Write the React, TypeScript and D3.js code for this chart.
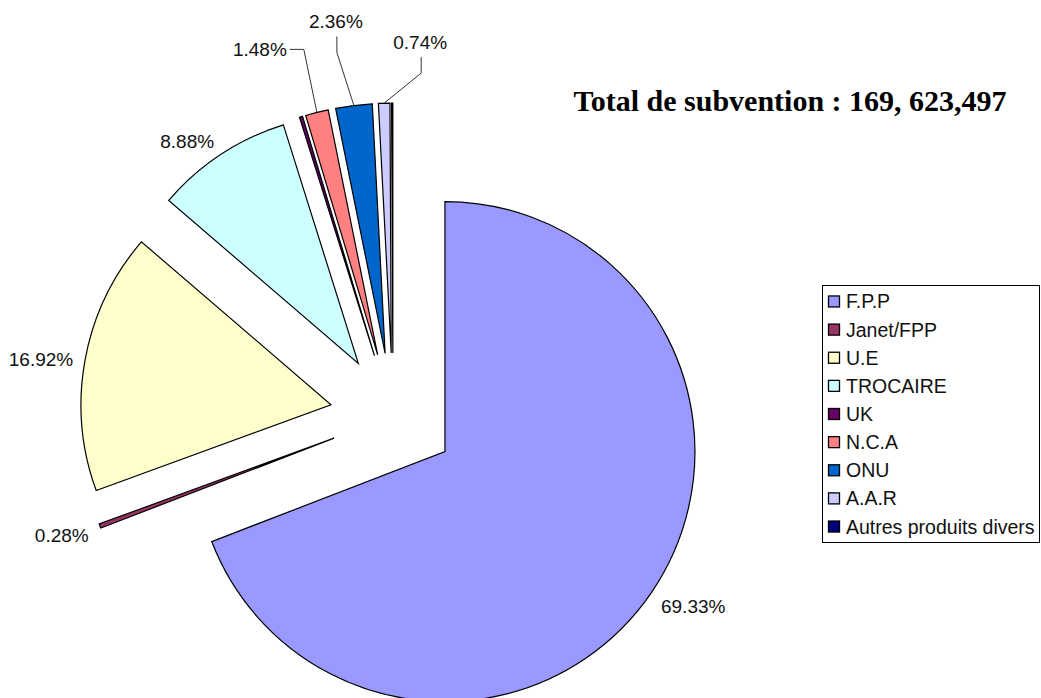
import * as d3 from 'd3';
import React, { useRef, useEffect } from 'react';

const categories = ['F.P.P', 'Janet/FPP', 'U.E', 'TROCAIRE', 'UK', 'N.C.A', 'ONU', 'A.A.R', 'Autres produits divers'];
const shares = [69.33, 0.28, 16.92, 8.88, 0.2, 1.48, 2.36, 0.74, 0.08];
const shareLabels = ['69.33%', '0.28%', '16.92%', '8.88%', null, '1.48%', '2.36%', '0.74%', null];
const colors = ['#9999FF', '#993366', '#FFFFCC', '#CCFFFF', '#660066', '#FF8080', '#0066CC', '#CCCCFF', '#000080'];
const title = 'Total de subvention : 169, 623,497';

// labels moved by hand in the original get a leader line
const leaders = {
  5: { dx: -57, dy: -63, side: 'right' },
  6: { dx: -18, dy: -84, side: 'below' },
  7: { dx: 36, dy: -61, side: 'below' },
};

const W = 1041;
const H = 698;

function Chart() {
  const ref = useRef();

  useEffect(() => {
    draw();
  }, []);

  const draw = () => {
    const svg = d3.select(ref.current);
    svg.selectAll('*').remove();

    const cx = 393;
    const cy = 416;
    const r = 250;
    const explode = 63;

    const pie = d3.pie().sort(null).value(d => d);
    const arcs = pie(shares);
    const arc = d3.arc().innerRadius(0).outerRadius(r);

    const dir = d => {
      const a = (d.startAngle + d.endAngle) / 2;
      return [Math.sin(a), -Math.cos(a)];
    };

    const slices = svg.append('g');
    slices
      .selectAll('path')
      .data(arcs)
      .enter()
      .append('path')
      .attr('transform', d => {
        const [ux, uy] = dir(d);
        return `translate(${cx + ux * explode},${cy + uy * explode})`;
      })
      .attr('d', arc)
      .attr('fill', (d, i) => colors[i])
      .attr('stroke', '#000')
      .attr('stroke-width', 1.2)
      .attr('stroke-linejoin', 'miter');

    const labels = svg
      .append('g')
      .attr('font-family', '"Liberation Sans", Arial, sans-serif')
      .attr('font-size', 19)
      .attr('fill', '#111');

    arcs.forEach((d, i) => {
      const txt = shareLabels[i];
      if (!txt) return;
      const [ux, uy] = dir(d);
      const ox = cx + ux * (explode + r);
      const oy = cy + uy * (explode + r);
      const t = labels
        .append('text')
        .attr('text-anchor', 'middle')
        .attr('dominant-baseline', 'central')
        .text(txt);
      const hw = t.node().getComputedTextLength() / 2;
      const hh = 7;
      const lead = leaders[i];
      let tx, ty;
      if (lead) {
        tx = ox + lead.dx;
        ty = oy + lead.dy;
        let pts;
        if (lead.side === 'right') {
          pts = [[ox, oy], [tx + hw + 17, ty], [tx + hw + 3, ty]];
        } else {
          pts = [[ox, oy], [tx + 1, ty + 31], [tx + 1, ty + 15]];
        }
        labels
          .append('path')
          .attr('d', d3.line()(pts))
          .attr('fill', 'none')
          .attr('stroke', '#333')
          .attr('stroke-width', 1);
      } else {
        const gap = 12;
        tx = ox + ux * gap + Math.sign(ux) * hw;
        ty = oy + uy * gap + uy * hh + 3;
      }
      t.attr('x', tx).attr('y', ty);
    });

    svg
      .append('text')
      .attr('x', 790)
      .attr('y', 111)
      .attr('text-anchor', 'middle')
      .attr('font-family', '"Liberation Serif", "Times New Roman", serif')
      .attr('font-weight', 'bold')
      .attr('font-size', 30)
      .text(title);

    // legend
    const lx = 822;
    const ly = 285;
    const legend = svg.append('g');
    legend
      .append('rect')
      .attr('x', lx + 0.5)
      .attr('y', ly + 0.5)
      .attr('width', W - lx - 2)
      .attr('height', 257)
      .attr('fill', '#fff')
      .attr('stroke', '#000')
      .attr('stroke-width', 1);

    const row = d3.scaleBand().domain(categories).range([ly + 1, ly + 257]).paddingOuter(0.05);
    const items = legend
      .selectAll('g.item')
      .data(categories)
      .enter()
      .append('g')
      .attr('class', 'item')
      .attr('transform', d => `translate(0,${row(d) + row.bandwidth() / 2})`);
    items
      .append('rect')
      .attr('x', lx + 6.5)
      .attr('y', -5.5)
      .attr('width', 11)
      .attr('height', 11)
      .attr('fill', (d, i) => colors[i])
      .attr('stroke', '#000')
      .attr('stroke-width', 1.3);
    items
      .append('text')
      .attr('x', lx + 24)
      .attr('dominant-baseline', 'central')
      .attr('font-family', '"Liberation Sans", Arial, sans-serif')
      .attr('font-size', 19.5)
      .attr('fill', '#111')
      .text(d => d);
  };

  return (
    <div className="chart" style={{ position: 'absolute', left: 0, top: 0 }}>
      <svg ref={ref} width={W} height={H} style={{ display: 'block', background: '#fff' }} />
    </div>
  );
}

export default function App() {
  return <Chart />;
}
